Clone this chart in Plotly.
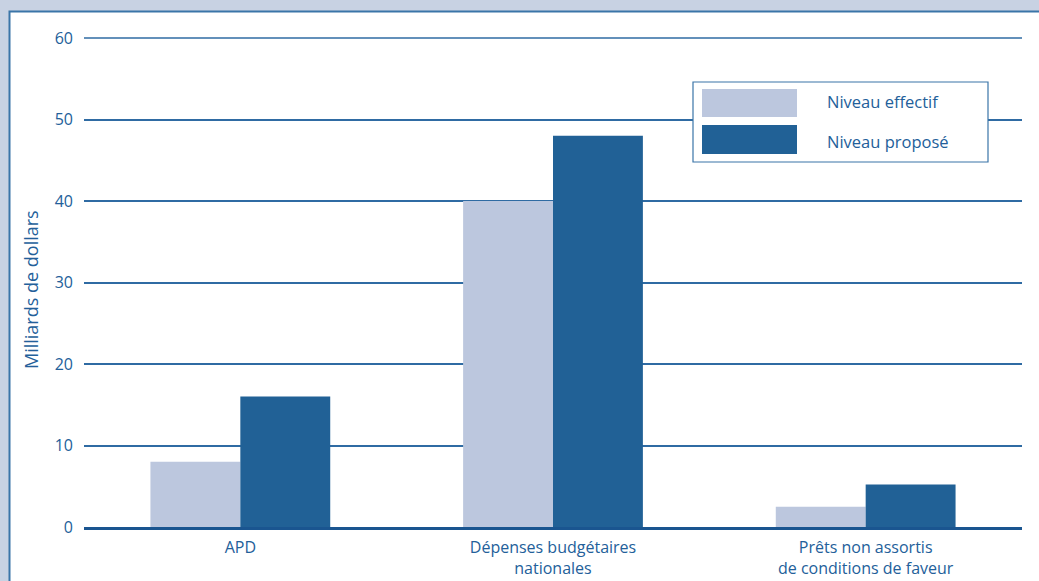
import plotly.graph_objects as go

categories = ["APD", "Dépenses budgétaires<br>nationales", "Prêts non assortis<br>de conditions de faveur"]
niveau_effectif = [8.0, 40.0, 2.5]
niveau_propose = [16.0, 48.0, 5.2]
series_names = ["Niveau effectif", "Niveau proposé"]
y_ticks = [0, 10, 20, 30, 40, 50, 60]

LIGHT = "#bcc7de"
DARK = "#216196"
TEXT = "#23609a"
LINE = "#2f6ba3"
BG = "#c8d2e3"

W, H = 1039, 581
L, R, T, B = 84, 17, 38, 54
pw, ph = W - L - R, H - T - B

def px(x):
    return (x - L) / pw

def py(y):
    return (H - B - y) / ph

font = "'Open Sans', Lato, sans-serif"

fig = go.Figure()
fig.add_trace(go.Bar(x=categories, y=niveau_effectif, name=series_names[0],
                     marker=dict(color=LIGHT, line=dict(width=0)), showlegend=False))
fig.add_trace(go.Bar(x=categories, y=niveau_propose, name=series_names[1],
                     marker=dict(color=DARK, line=dict(width=0)), showlegend=False))

shapes = [
    dict(type="rect", xref="paper", yref="paper", x0=px(9.5), x1=px(1100), y0=py(11.5), y1=py(700),
         fillcolor="white", line=dict(color="#3a75a8", width=2), layer="below"),
    dict(type="line", xref="paper", yref="paper", x0=0, x1=1, y0=1, y1=1,
         line=dict(color=LINE, width=1.5), layer="below"),
    dict(type="rect", xref="paper", yref="paper", x0=px(693), x1=px(988), y0=py(82), y1=py(162),
         fillcolor="white", line=dict(color="#3a75a8", width=1.2), layer="above"),
    dict(type="rect", xref="paper", yref="paper", x0=px(702), x1=px(797), y0=py(89), y1=py(117),
         fillcolor=LIGHT, line=dict(width=0), layer="above"),
    dict(type="rect", xref="paper", yref="paper", x0=px(702), x1=px(797), y0=py(125), y1=py(154),
         fillcolor=DARK, line=dict(width=0), layer="above"),
]

annotations = [
    dict(text=series_names[0], xref="paper", yref="paper", x=px(825), y=py(101), xanchor="left",
         yanchor="middle", showarrow=False, font=dict(family=font, size=16.5, color=TEXT)),
    dict(text=series_names[1], xref="paper", yref="paper", x=px(825), y=py(141), xanchor="left",
         yanchor="middle", showarrow=False, font=dict(family=font, size=16.5, color=TEXT)),
    dict(text="Milliards de dollars", xref="paper", yref="paper", x=px(31), y=py(290), textangle=-90,
         xanchor="center", yanchor="middle", showarrow=False, font=dict(family=font, size=18, color=TEXT)),
]

fig.update_layout(
    width=W, height=H,
    margin=dict(l=L, r=R, t=T, b=B),
    paper_bgcolor=BG, plot_bgcolor="rgba(0,0,0,0)",
    barmode="group", bargap=0.425, bargroupgap=0,
    font=dict(family=font, size=16, color=TEXT),
    shapes=shapes, annotations=annotations,
    showlegend=False,
)
fig.update_yaxes(range=[0, 60], tickvals=y_ticks, showgrid=True, gridcolor=LINE, gridwidth=1.5,
                 zeroline=False, showline=False, ticks="", ticklabelstandoff=10, automargin=False,
                 tickfont=dict(family=font, size=16, color=TEXT))
fig.update_xaxes(showgrid=False, showline=True, linecolor="#1a5590", linewidth=3, ticks="",
                 ticklabelstandoff=4, automargin=False,
                 tickfont=dict(family=font, size=16, color=TEXT))

fig.write_html("out.html", config={"displayModeBar": False},
               post_script="document.body.style.margin='0';document.body.style.background='#c8d2e3';")
